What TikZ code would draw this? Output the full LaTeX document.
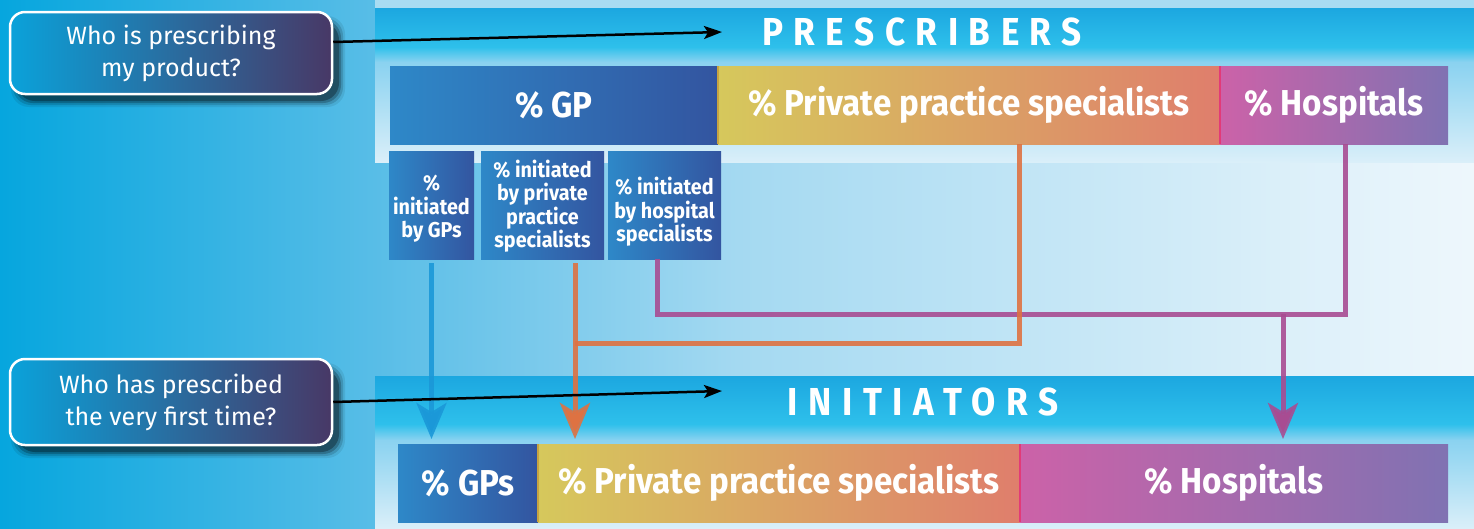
\documentclass[tikz,border=0pt]{standalone}
\usepackage{fontspec}
\setmainfont{Fira Sans}
\newfontfamily\labfont{Fira Sans}[FakeStretch=0.92]
\newfontfamily\headfont{Fira Sans}[FakeStretch=0.9,LetterSpace=27]
\usetikzlibrary{arrows.meta}

\definecolor{bgA}{HTML}{06A6DE}
\definecolor{bgB}{HTML}{58BDE7}
\definecolor{bgC}{HTML}{A4D9F1}
\definecolor{bgD}{HTML}{EEF7FC}
\definecolor{panelTop0}{HTML}{A8DCF2}
\definecolor{bandT}{HTML}{1CA7E0}
\definecolor{bandB}{HTML}{2EC0EB}
\definecolor{panelA}{HTML}{8AD2F0}
\definecolor{panelB}{HTML}{DAEFF9}
\definecolor{gpL}{HTML}{2E88C8}
\definecolor{gpR}{HTML}{3355A0}
\definecolor{ppL}{HTML}{D6C85C}
\definecolor{ppM}{HTML}{DDA85F}
\definecolor{ppR}{HTML}{DF7E6C}
\definecolor{hL}{HTML}{CC62A8}
\definecolor{hM}{HTML}{A661A8}
\definecolor{hR}{HTML}{8072B2}
\definecolor{qL}{HTML}{0AA2DA}
\definecolor{qM}{HTML}{3A7DAA}
\definecolor{qR}{HTML}{483866}
\definecolor{sepGold}{HTML}{C8A440}
\definecolor{sepPink}{HTML}{E23A78}
\definecolor{cBlue}{HTML}{1B98D8}
\definecolor{cOrange}{HTML}{DE7242}
\definecolor{cPurple}{HTML}{A84C92}

\pgfdeclarehorizontalshading{bgsh}{100bp}{color(0bp)=(bgA); color(25bp)=(bgA); color(37.7bp)=(bgB); color(50bp)=(bgC); color(75bp)=(bgD); color(100bp)=(bgD)}

\tikzset{
  lab/.style={text=white, inner sep=0pt, outer sep=0pt, anchor=north west, align=center,
    font=\labfont\bfseries\fontsize{36}{40}\selectfont},
  gpbox/.style={lab, left color=gpL, right color=gpR},
  ppbox/.style={lab, left color=ppL, middle color=ppM, right color=ppR},
  hbox/.style={lab, left color=hL, middle color=hM, right color=hR},
  subbox/.style={gpbox, minimum height=108},
  subtxt/.style={text=white, inner sep=0pt, align=center,
    font=\labfont\bfseries\fontsize{21.5}{23.5}\selectfont},
  qbox/.style={draw=white, line width=2.5pt, rounded corners=15pt, left color=qL, middle color=qM,
    right color=qR, text=white, align=center, minimum width=322, minimum height=82, inner sep=0pt,
    font=\fontsize{25}{32}\selectfont},
  headtxt/.style={text=white, inner sep=0pt, font=\headfont\bfseries\fontsize{39}{40}\selectfont},
  qarrow/.style={line width=2.5pt, black, -{Stealth[length=18pt,width=13pt,inset=4pt]}},
  conn/.style={line width=5pt, draw opacity=0.9},
  bigtip/.style={-{Stealth[length=36pt,width=30pt,inset=9pt]}},
  sep/.style={line width=1.2pt}
}

\begin{document}
\begin{tikzpicture}[x=1pt,y=-1pt]
\useasboundingbox (0,0) rectangle (1474,528);
% background
\shade[shading=bgsh] (0,0) rectangle (1474,528);
% top panel
\fill[panelTop0] (375,0) rectangle (1474,8);
\shade[top color=bandT, bottom color=bandB] (375,8) rectangle (1474,47);
\shade[top color=bandB, bottom color=panelA] (375,47) rectangle (1474,62);
\shade[top color=panelA, bottom color=panelB] (375,62) rectangle (1474,162);
% bottom panel
\shade[top color=bandT, bottom color=bandB] (375,376) rectangle (1474,424);
\shade[top color=bandB, bottom color=panelA] (375,424) rectangle (1474,440);
\shade[top color=panelA, bottom color=panelB] (375,440) rectangle (1474,528);

% shadows of the question boxes
\foreach \s/\o in {6/0.08,4/0.14,2/0.22,0/0.3}{
  \fill[black, opacity=\o, rounded corners=18pt] (17-\s,22-\s) rectangle (339+\s,101+\s);
  \fill[black, opacity=\o, rounded corners=18pt] (17-\s,369-\s) rectangle (339+\s,452+\s);
}

% question boxes
\node[qbox] (q1) at (171,53) {Who is prescribing\\my product?};
\node[qbox, minimum height=86] (q2) at (171,402) {Who has prescribed\\the very first time?};

% headers
\node[headtxt] (presc) at (922,32) {PRESCRIBERS};
\node[headtxt] (initr) at (923,402) {INITIATORS};

% prescribers row
\node[gpbox, minimum width=328, minimum height=78] (gp) at (390,66) {\% GP};
\node[ppbox, minimum width=502, minimum height=78] (pps) at (718,66) {\% Private practice specialists};
\node[hbox, minimum width=228, minimum height=78] (hosp) at (1220,66) {\% Hospitals};
\draw[sep, sepGold] (pps.north west) -- (pps.south west);
\draw[sep, sepPink] (hosp.north west) -- (hosp.south west);

% initiated-by boxes
\node[subbox, minimum width=85] (s1) at (389,151) {};
\node[subbox, minimum width=123] (s2) at (481,151) {};
\node[subbox, minimum width=113] (s3) at (608,151) {};
\node[subtxt] (s1t) at ([yshift=-4pt]s1.center) {\%\\initiated\\by GPs};
\node[subtxt] (s2t) at ([yshift=-1pt]s2.center) {\% initiated\\by private\\practice\\specialists};
\node[subtxt] (s3t) at ([yshift=-7pt]s3.center) {\% initiated\\by hospital\\specialists};

% initiators row
\node[gpbox, minimum width=140, minimum height=78] (bgp) at (398,444) {\% GPs};
\node[ppbox, minimum width=482, minimum height=78] (bpps) at (538,444) {\% Private practice specialists};
\node[hbox, minimum width=428, minimum height=78] (bhosp) at (1020,444) {\% Hospitals};
\draw[sep, sepGold] (bpps.north west) -- (bpps.south west);
\draw[sep, sepPink] (bhosp.north west) -- (bhosp.south west);

% junction coordinates
\coordinate (ojoin) at (575,343);
\coordinate (pjoin) at (1345,314);
\coordinate (pdrop) at (1283,314);

% connectors
\draw[conn, cPurple] ([xshift=-7.5pt]s3.south) |- (pjoin) -- (hosp.south -| pjoin);
\draw[conn, cPurple, bigtip, shorten >=5pt] (pdrop) -- (bhosp.north -| pdrop);
\draw[conn, cOrange] ([xshift=50pt]pps.south) |- (ojoin);
\draw[conn, cOrange, bigtip, shorten <=4pt, shorten >=5pt] (s2.south -| ojoin) -- (bpps.north -| ojoin);
\draw[conn, cBlue, bigtip, shorten <=4pt, shorten >=5pt] (s1.south) -- (s1.south |- bgp.north);

% question arrows
\draw[qarrow] ([yshift=11pt]q1.east) -- (722,32);
\draw[qarrow] (q2.east) -- (722,391);
\end{tikzpicture}
\end{document}
